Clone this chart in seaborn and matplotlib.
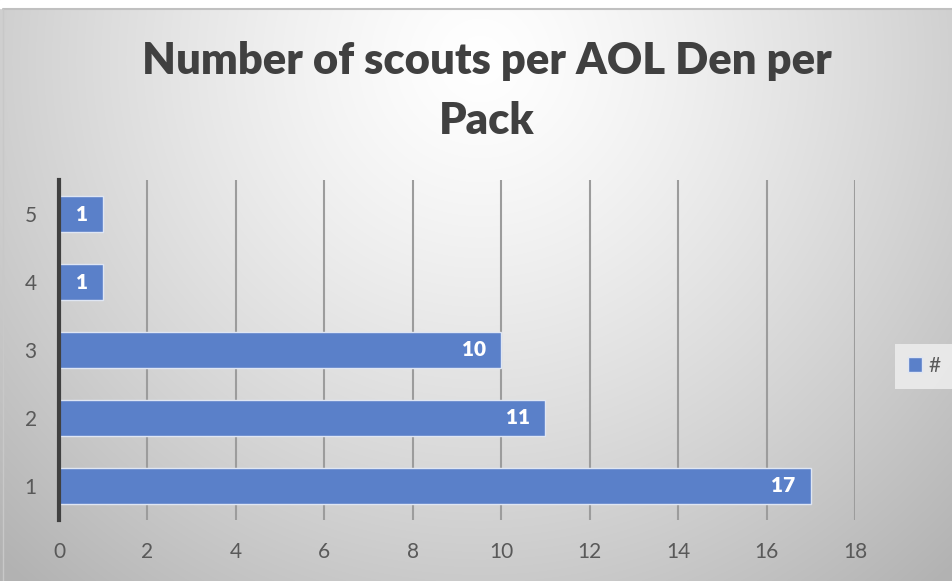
import numpy as np
import pandas as pd
import matplotlib
matplotlib.use("Agg")
import matplotlib.pyplot as plt
import seaborn as sns
from matplotlib.patches import Rectangle

categories = ["5", "4", "3", "2", "1"]
values = [1, 1, 10, 11, 17]
series_name = "#"
x_ticks = [0, 2, 4, 6, 8, 10, 12, 14, 16, 18]
title = "Number of scouts per AOL Den per\nPack"

sns.set_theme(style="white")
plt.rcParams['font.family'] = ['Lato', 'DejaVu Sans']

df = pd.DataFrame({"Den": categories, "Scouts": values, "Series": series_name})

fig = plt.figure(figsize=(9.52, 5.81), dpi=100)

# background radial gradient
bg = fig.add_axes([0, 0, 1, 1], zorder=-10)
yy, xx = np.mgrid[0:581, 0:952]
cx, cy = 480, 60
d = np.sqrt(((xx - cx) / 620.0) ** 2 + ((yy - cy) / 620.0) ** 2)
g = np.clip(1.0 - 0.26 * d ** 1.3, 0.7, 1.0)
bg.imshow(np.dstack([g, g, g]), extent=[0, 1, 0, 1], aspect='auto', origin='upper')
bg.add_patch(Rectangle((0, 1 - 8 / 581), 1, 8 / 581, color='white', transform=bg.transAxes))
bg.plot([3 / 952, 1], [1 - 8.5 / 581] * 2, color='#c0c0c0', lw=1.5, transform=bg.transAxes)
bg.plot([3 / 952] * 2, [0, 1 - 8.5 / 581], color='#c8c8c8', lw=1.0, transform=bg.transAxes)
bg.set_axis_off()

ax = fig.add_axes([59 / 952, 1 - 520 / 581, (855 - 59) / 952, 340 / 581])
ax.patch.set_alpha(0)

sns.barplot(data=df, y="Den", x="Scouts", hue="Series", order=categories,
            orient="h", palette=["#5a80c9"], saturation=1, width=0.54, ax=ax,
            edgecolor="#dfe6f3", linewidth=1.0, zorder=3)

ax.set_xlim(0, 18)
ax.set_ylim(4.5, -0.5)
ax.set_xticks(x_ticks)
ax.set_xticklabels([str(t) for t in x_ticks])
ax.set_xlabel("")
ax.set_ylabel("")
for t in x_ticks[1:]:
    ax.axvline(t, color='#9c9c9c', lw=1.5, zorder=1)
for s in ['top', 'right', 'bottom']:
    ax.spines[s].set_visible(False)
ax.spines['left'].set_color('#404040')
ax.spines['left'].set_linewidth(3)
ax.spines['left'].set_zorder(5)
ax.tick_params(axis='x', length=0, pad=16, labelsize=15, labelcolor='#595959')
ax.tick_params(axis='y', length=0, pad=16, labelsize=15, labelcolor='#595959')

for i, v in enumerate(values):
    ax.annotate(str(v), xy=(v, i), xytext=(-11, 0), textcoords='offset points',
                ha='right', va='center', color='white', fontsize=15,
                fontweight='heavy', zorder=6)

# legend
leg_handles, leg_labels = ax.get_legend_handles_labels()
ax.get_legend().remove()
lg = fig.legend(leg_handles, leg_labels, loc='center', bbox_to_anchor=(924 / 952, 1 - 366 / 581),
                frameon=True, fontsize=15, handlelength=0.7, handleheight=0.7,
                handletextpad=0.3, borderpad=0.6, labelcolor='#595959')
lg.get_frame().set_facecolor('#ececec')
lg.get_frame().set_edgecolor('none')
lg.get_frame().set_alpha(0.9)
lg.get_frame().set_boxstyle('square', pad=0)

fig.text(487 / 952, 1 - 91 / 581, title, ha='center', va='center', fontsize=31.3,
         fontweight='heavy', color='#404040', linespacing=1.6)

fig.savefig("out.png", dpi=100)
